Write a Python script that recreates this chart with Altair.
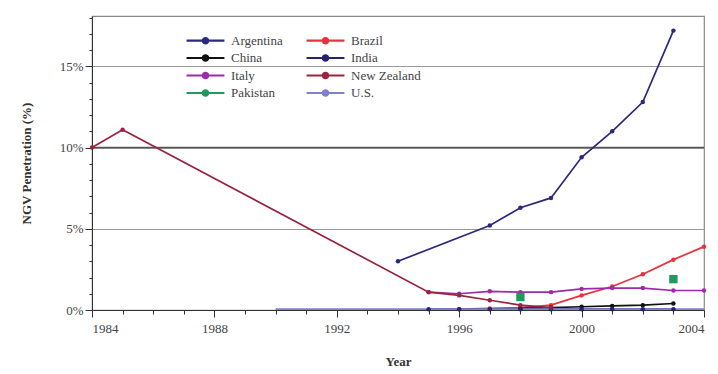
import altair as alt
import pandas as pd

# NGV penetration (% of vehicle fleet) by country and year
# legend order is row-by-row in two columns
series_names = ["Argentina", "China", "Italy", "Pakistan", "Brazil", "India", "New Zealand", "U.S."]
series_colors = ["#2a2a7c", "#111111", "#9b2bab", "#1f9a5c", "#e8323c", "#23236e", "#9a2440", "#8080cc"]

argentina_years = [1994, 1997, 1998, 1999, 2000, 2001, 2002, 2003]
argentina_vals = [3.0, 5.2, 6.3, 6.9, 9.4, 11.0, 12.8, 17.2]

brazil_years = [1996, 1997, 1998, 1999, 2000, 2001, 2002, 2003, 2004]
brazil_vals = [0.05, 0.1, 0.15, 0.3, 0.9, 1.45, 2.2, 3.1, 3.9]

china_years = [1998, 1999, 2000, 2001, 2002, 2003]
china_vals = [0.1, 0.15, 0.2, 0.25, 0.3, 0.4]

india_years = [1995, 1996, 1997, 1998, 1999, 2000, 2001, 2002, 2003]
india_vals = [0.05, 0.05, 0.05, 0.05, 0.05, 0.05, 0.05, 0.05, 0.05]

italy_years = [1995, 1996, 1997, 1998, 1999, 2000, 2001, 2002, 2003, 2004]
italy_vals = [1.1, 1.0, 1.15, 1.1, 1.1, 1.3, 1.35, 1.35, 1.2, 1.2]

nz_years = [1984, 1985, 1995, 1996, 1997, 1998, 1999]
nz_vals = [10.0, 11.1, 1.1, 0.9, 0.6, 0.3, 0.15]

pakistan_years = [1998, 2003]
pakistan_vals = [0.8, 1.9]

us_years = [1990, 1992, 1994, 1996, 1998, 2000, 2002, 2004]
us_vals = [0.05, 0.05, 0.05, 0.05, 0.05, 0.05, 0.05, 0.05]

x_ticks = list(range(1984, 2005))   # every year; labels every 4 years
y_ticks = list(range(0, 19))        # every 1%; labels every 5%

rows = []
for name, yrs, vals in [
    ("Argentina", argentina_years, argentina_vals),
    ("Brazil", brazil_years, brazil_vals),
    ("China", china_years, china_vals),
    ("India", india_years, india_vals),
    ("Italy", italy_years, italy_vals),
    ("New Zealand", nz_years, nz_vals),
    ("Pakistan", pakistan_years, pakistan_vals),
    ("U.S.", us_years, us_vals),
]:
    for yr, v in zip(yrs, vals):
        rows.append({"Country": name, "Year": yr, "Share": v})
df = pd.DataFrame(rows)

FONT = "Liberation Serif"
xs = alt.Scale(domain=[1984, 2004], nice=False, zero=False)
ys = alt.Scale(domain=[0, 18.1], nice=False, zero=True)
cs = alt.Scale(domain=series_names, range=series_colors)

# legend swatch: a short line with a dot in the middle
legend_path = "M-3.2,0H3.2M-0.45,0a0.45,0.45 0 1,0 0.9,0a0.45,0.45 0 1,0 -0.9,0"

x_axis = alt.Axis(
    values=x_ticks, title="Year", grid=False,
    labelExpr="(datum.value - 1984) % 4 === 0 ? '' + datum.value : ''",
    tickSize={"condition": {"test": "(datum.value - 1984) % 4 === 0", "value": 7}, "value": 4},
    labelPadding=5, titlePadding=20,
)
y_axis = alt.Axis(
    values=y_ticks, title="NGV Penetration (%)", grid=True,
    labelExpr="datum.value % 5 === 0 ? datum.value + '%' : ''",
    gridOpacity={"condition": {"test": "datum.value % 5 === 0 && datum.value > 0", "value": 1}, "value": 0},
    tickSize={"condition": {"test": "datum.value % 5 === 0", "value": 7}, "value": 3},
    titlePadding=26,
)

base = alt.Chart(df)

lines = base.transform_filter(alt.datum.Country != "Pakistan").mark_line(strokeWidth=1.7).encode(
    x=alt.X("Year:Q", scale=xs, axis=x_axis),
    y=alt.Y("Share:Q", scale=ys, axis=y_axis),
    color=alt.Color("Country:N", scale=cs,
                    legend=alt.Legend(title=None, orient="none", legendX=106, legendY=17,
                                      columns=2, columnPadding=19, rowPadding=2.5,
                                      symbolType=legend_path, symbolSize=140,
                                      symbolStrokeWidth=2.2, labelFont=FONT,
                                      labelFontSize=13, labelColor="#444",
                                      labelOffset=18)),
    order="Year:Q",
)

points = base.transform_filter(
    (alt.datum.Country != "U.S.") & (alt.datum.Country != "Pakistan")
).mark_point(filled=True, size=20, opacity=1).encode(
    x=alt.X("Year:Q", scale=xs, axis=x_axis),
    y=alt.Y("Share:Q", scale=ys, axis=y_axis),
    color=alt.Color("Country:N", scale=cs, legend=None),
)

squares = base.transform_filter(alt.datum.Country == "Pakistan").mark_point(
    shape="square", filled=True, size=70, opacity=1).encode(
    x=alt.X("Year:Q", scale=xs, axis=x_axis),
    y=alt.Y("Share:Q", scale=ys, axis=y_axis),
    color=alt.Color("Country:N", scale=cs, legend=None),
)

# the 10% gridline is drawn heavier
ten_line = alt.Chart(pd.DataFrame({"Share": [10]})).mark_rule(color="#555", strokeWidth=1.4).encode(
    y=alt.Y("Share:Q", scale=ys, axis=y_axis)
)

chart = alt.layer(ten_line, lines, points, squares).properties(
    width=612, height=294,
    autosize=alt.AutoSizeParams(type="none"),
    padding={"left": 92, "top": 16, "right": 14, "bottom": 64},
).configure_view(
    stroke="#8a8a8a", strokeWidth=1.2
).configure_axis(
    labelFont=FONT, titleFont=FONT, labelFontSize=13, titleFontSize=13,
    labelColor="#444", titleColor="#333", titleFontWeight="bold",
    domainColor="#333", tickColor="#333", gridColor="#999", gridWidth=1,
).configure_legend(
    labelFont=FONT
)

chart.save("out.html", embed_options={"renderer": "svg", "actions": False})
